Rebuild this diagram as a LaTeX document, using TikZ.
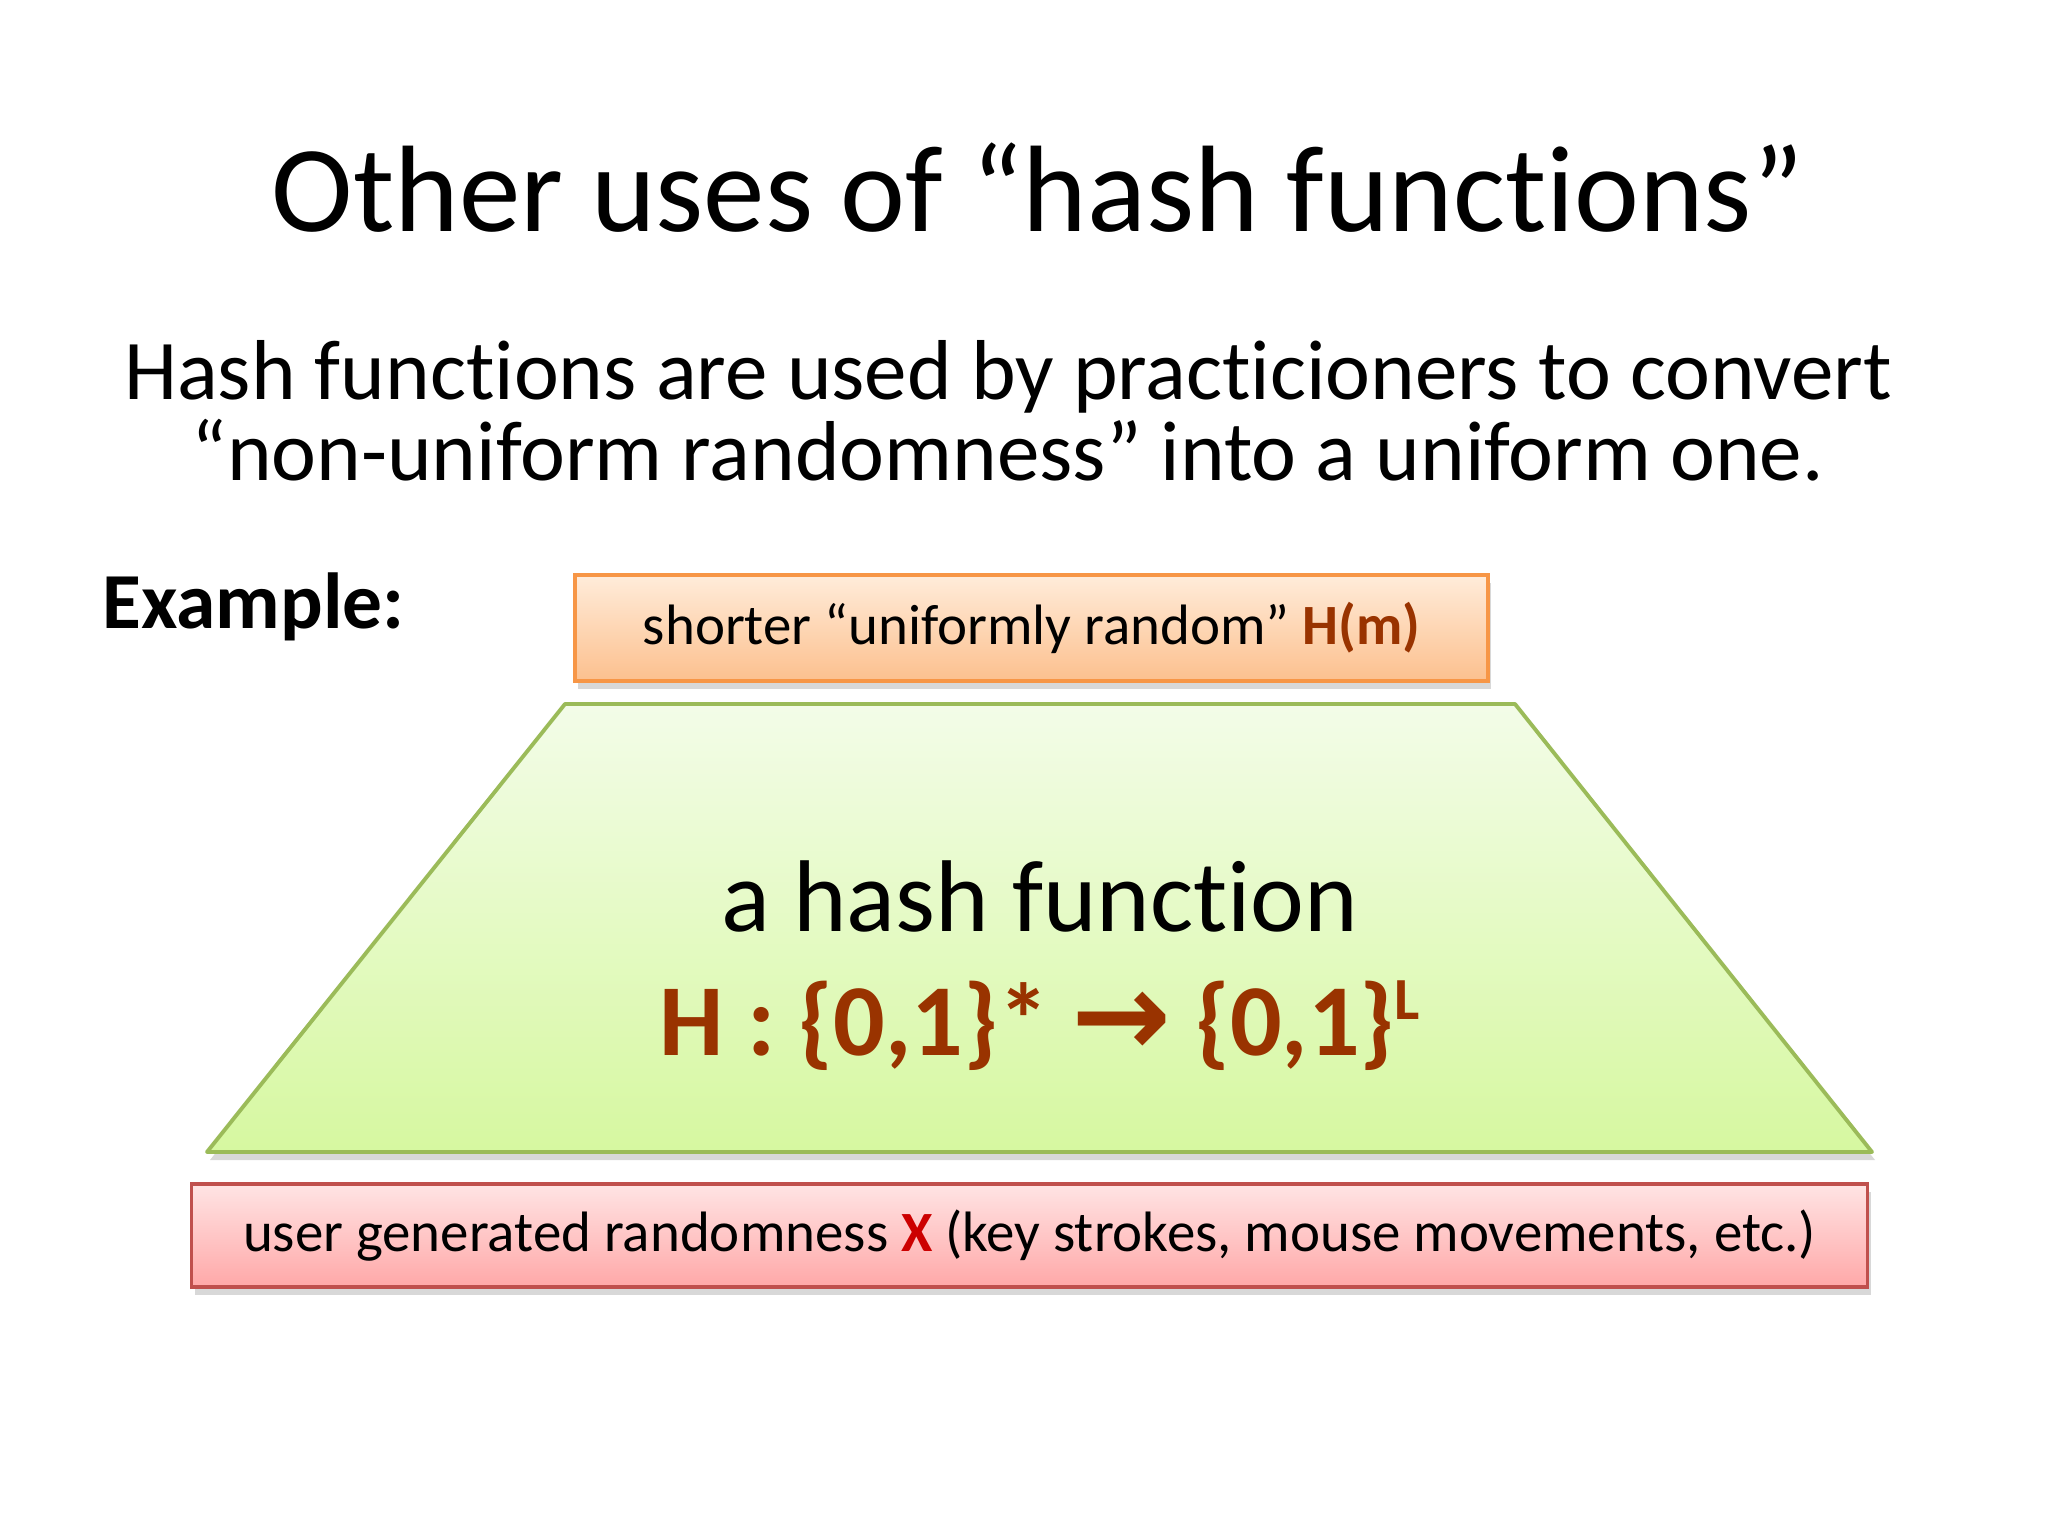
\documentclass[tikz,border=0pt]{standalone}
\usepackage{fontspec}
\setmainfont{Carlito}[Ligatures=NoCommon]
\newfontfamily\arrowfont{DejaVu Sans}
\usetikzlibrary{positioning, shadows, calc}
\definecolor{outtop}{RGB}{255,236,218}
\definecolor{outbottom}{RGB}{252,192,142}
\definecolor{outborder}{RGB}{247,150,70}
\definecolor{hashtop}{RGB}{243,252,232}
\definecolor{hashbottom}{RGB}{214,248,160}
\definecolor{hashborder}{RGB}{155,187,89}
\definecolor{intop}{RGB}{255,228,228}
\definecolor{inbottom}{RGB}{255,168,168}
\definecolor{inborder}{RGB}{192,80,77}
\definecolor{formulabrown}{RGB}{153,51,0}
\definecolor{xred}{RGB}{204,0,0}
\tikzset{
  softshadow/.style={
    drop shadow={shadow xshift=0.3mm, shadow yshift=-0.8mm,
                 opacity=0.25, fill=black!60}
  },
  resultbox/.style={
    rectangle, minimum width=9.13cm, minimum height=1.06cm,
    draw=outborder, line width=1.1pt,
    top color=outtop, bottom color=outbottom, softshadow,
    font=\fontsize{16.2}{20}\selectfont, text centered
  },
  sourcebox/.style={
    rectangle, minimum width=16.76cm, minimum height=1.03cm,
    draw=inborder, line width=1.1pt,
    top color=intop, bottom color=inbottom, softshadow,
    font=\fontsize{16.2}{20}\selectfont, text centered
  },
  hashbody/.style={
    draw=hashborder, line width=1.1pt, line join=round,
    top color=hashtop, bottom color=hashbottom, softshadow
  },
  slidetext/.style={inner sep=0pt, align=center}
}

\begin{document}
\begin{tikzpicture}

\useasboundingbox[fill=white] (0,0) rectangle (20.48,-15.36);

% ═══════════════════════════════════════════════════════════════════
% HEADING
% ═══════════════════════════════════════════════════════════════════

\node[slidetext, anchor=base, font=\fontsize{35}{40}\selectfont]
  (title) at (10.38,-2.32) {Other uses of “hash functions”};

% base anchor sits on the last line
\node[slidetext, anchor=base,
      font=\fontsize{24.2}{23.3}\selectfont]
  (subtitle) at (10.08,-4.81)
  {Hash functions are used by practicioners to convert\\
   “non-uniform randomness” into a uniform one.};

\node[slidetext, anchor=base west, font=\fontsize{22.6}{26}\selectfont\bfseries]
  (example) at (1.02,-6.29) {Example:};

% ═══════════════════════════════════════════════════════════════════
% HASH FUNCTION STACK
% ═══════════════════════════════════════════════════════════════════

\coordinate (hashtl) at (5.65,-7.04);
\coordinate (hashtr) at (15.15,-7.04);
\coordinate (hashbr) at (18.72,-11.52);
\coordinate (hashbl) at (2.07,-11.52);

\draw[hashbody] (hashbl) -- (hashtl) -- (hashtr) -- (hashbr) -- cycle;

\node[resultbox, anchor=south, xshift=-0.085cm, yshift=0.21cm]
  (hashout) at ($(hashtl)!0.5!(hashtr)$)
  {shorter “uniformly random” {\bfseries\color{formulabrown}H(m)}};

\node[sourcebox, anchor=north, xshift=-0.1cm, yshift=-0.30cm]
  (userrand) at ($(hashbl)!0.5!(hashbr)$)
  {user generated randomness {\bfseries\color{xred}X} (key strokes, mouse movements, etc.)};

% ── text inside the trapezium ────────────────────────────────────
\node[slidetext, anchor=base, font=\fontsize{29}{32}\selectfont]
  (fnname) at (10.40,-9.32) {a hash function};

\node[slidetext, anchor=base, text=formulabrown,
      font=\fontsize{29}{32}\selectfont\bfseries]
  (fnsig) at (10.40,-10.55)
  {H : \{0,1\}* {\arrowfont\fontsize{34}{32}\selectfont\raisebox{-0.5pt}{→}} \{0,1\}\raisebox{0.35em}{\fontsize{17}{20}\selectfont L}};

\end{tikzpicture}
\end{document}
